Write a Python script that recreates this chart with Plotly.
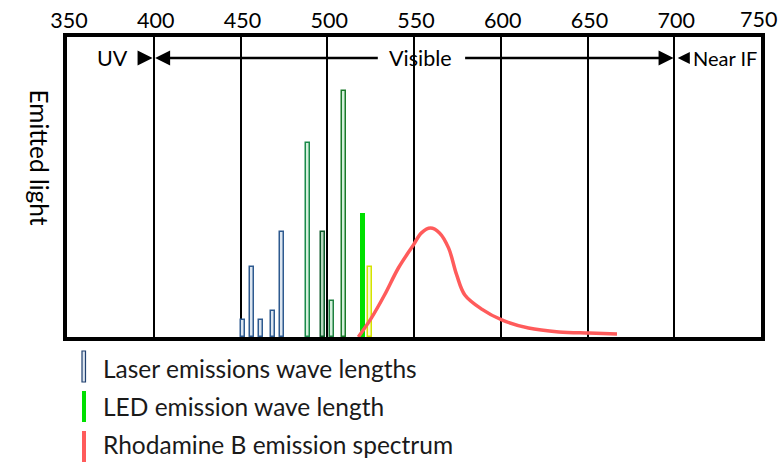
import plotly.graph_objects as go

# ---- data ----
laser_nm = [451.4, 456.6, 461.8, 468.8, 474.0, 489.0, 497.7, 502.9, 509.8]
laser_h = [0.057, 0.233, 0.057, 0.087, 0.35, 0.647, 0.35, 0.12, 0.82]
laser_line = ['#2e5a8f', '#2e5a8f', '#2e5a8f', '#2e5a8f', '#2e5a8f',
              '#1a8a4a', '#0d5a2a', '#1e8040', '#1a7a2a']
laser_fill = ['#dde6f0', '#dde6f0', '#dde6f0', '#dde6f0', '#dde6f0',
              '#d4f0dc', '#b8d8c0', '#d4f0dc', '#d4f0dc']

led_nm = [520.2]
led_h = [0.413]

yellow_nm = [524.9]
yellow_h = [0.233]

rhod_nm = [517.9, 525.4, 533.0, 541.0, 549.7, 554.3, 559.5, 564.7, 569.9,
           574.6, 579.3, 589.0, 600.6, 616.0, 633.5, 651.0, 667.0]
rhod_y = [0.0, 0.063, 0.14, 0.23, 0.307, 0.347, 0.363, 0.347, 0.297,
          0.207, 0.14, 0.093, 0.057, 0.03, 0.017, 0.013, 0.01]

x_ticks = [350, 400, 450, 500, 550, 600, 650, 700, 750]
x_tick_text = ['350', '400', '450', '500', '550', '600', '650', '700', '']
last_tick_val = 750
last_tick_text = '750'

FONT = "Lato"
TICKFONT = dict(family=FONT, size=21.5, color='black')

fig = go.Figure()
fig.add_trace(go.Bar(x=laser_nm, y=laser_h, width=2.3,
                     marker=dict(color=laser_fill,
                                 line=dict(color=laser_line, width=1.5))))
fig.add_trace(go.Bar(x=led_nm, y=led_h, width=2.8,
                     marker=dict(color='#00e000', line=dict(width=0))))
fig.add_trace(go.Bar(x=yellow_nm, y=yellow_h, width=2.3,
                     marker=dict(color='#f8fbd0',
                                 line=dict(color='#d4e400', width=1.5))))
fig.add_trace(go.Scatter(x=rhod_nm, y=rhod_y, mode='lines',
                         line=dict(color='#ff5b5b', width=3.5, shape='spline')))

# window-pixel -> paper helpers (plot area in window: x 67..761, y 37..337)
W, H, L, T = 694.0, 300.0, 67.0, 37.0
def px(x):
    return (x - L) / W
def py(y):
    return (T + H - y) / H

ann = []
# last top tick label, nudged inside the page as in the reference
ann.append(dict(x=last_tick_val, y=py(19.5), xref='x', yref='paper', xshift=-3,
                text=last_tick_text, showarrow=False, yanchor='middle',
                font=TICKFONT))

arrow_y = py(58)
AF = dict(family=FONT, size=21.5, color='black')
# UV arrow
ann.append(dict(x=399.3, y=arrow_y, ax=390.8, ay=arrow_y, xref='x', yref='y',
                axref='x', ayref='y', showarrow=True, arrowhead=2, arrowsize=1.2,
                arrowwidth=2.5, arrowcolor='black', text=''))
ann.append(dict(x=376.3, y=arrow_y, xref='x', yref='y', text='UV', showarrow=False,
                font=AF))
# Visible arrows
ann.append(dict(x=400.8, y=arrow_y, ax=530, ay=arrow_y, xref='x', yref='y',
                axref='x', ayref='y', showarrow=True, arrowhead=2, arrowsize=1.2,
                arrowwidth=2.5, arrowcolor='black', text=''))
ann.append(dict(x=699.6, y=arrow_y, ax=578.6, ay=arrow_y, xref='x', yref='y',
                axref='x', ayref='y', showarrow=True, arrowhead=2, arrowsize=1.2,
                arrowwidth=2.5, arrowcolor='black', text=''))
ann.append(dict(x=554, y=arrow_y, xref='x', yref='y', text='Visible', showarrow=False,
                font=AF))
# Near IF
ann.append(dict(x=702.0, y=arrow_y, ax=705.8, ay=arrow_y, xref='x', yref='y',
                axref='x', ayref='y', showarrow=True, arrowhead=2, arrowsize=1.1,
                arrowwidth=2.2, arrowcolor='black', text=''))
ann.append(dict(x=px(691), y=arrow_y, xref='paper', yref='y', text='Near IF',
                showarrow=False, xanchor='left',
                font=dict(family=FONT, size=20, color='black')))
# y title
ann.append(dict(x=px(23), y=py(157), xref='paper', yref='paper', text='Emitted light',
                showarrow=False, textangle=90,
                font=dict(family=FONT, size=24.5, color='black')))

legend_items = [("Laser emissions wave lengths", 368),
                ("LED emission wave length", 406),
                ("Rhodamine B emission spectrum", 445)]
for txt, yc in legend_items:
    ann.append(dict(x=px(101), y=py(yc), xref='paper', yref='paper', text=txt,
                    showarrow=False, xanchor='left', yanchor='middle',
                    font=dict(family=FONT, size=24.5, color='#1a1a1a')))

shapes = [
    dict(type='rect', xref='paper', yref='paper', x0=px(82), x1=px(85.5),
         y0=py(382), y1=py(351), fillcolor='#dde6f0',
         line=dict(color='#1f3f6f', width=1.2)),
    dict(type='rect', xref='paper', yref='paper', x0=px(82), x1=px(86),
         y0=py(422), y1=py(391), fillcolor='#00e000', line=dict(width=0)),
    dict(type='rect', xref='paper', yref='paper', x0=px(82), x1=px(86),
         y0=py(462), y1=py(431), fillcolor='#ff5b5b', line=dict(width=0)),
]

fig.update_layout(
    width=778, height=466,
    margin=dict(l=67, r=17, t=37, b=129),
    paper_bgcolor='white', plot_bgcolor='white',
    showlegend=False, bargap=0,
    annotations=ann, shapes=shapes,
    xaxis=dict(range=[350, 750], side='top', tickvals=x_ticks,
               ticktext=x_tick_text, showgrid=True,
               gridcolor='black', gridwidth=1.5, zeroline=False, automargin=False,
               showline=True, linecolor='black', linewidth=3.5, mirror=True,
               ticks='', ticklabeloverflow='allow', ticklabelshift=2,
               ticklabelstandoff=-3, tickfont=TICKFONT),
    yaxis=dict(range=[0, 1], showgrid=False, zeroline=False, showticklabels=False,
               automargin=False,
               showline=True, linecolor='black', linewidth=3.5, mirror=True,
               ticks=''),
)

fig.write_html("out.html", config=dict(displayModeBar=False),
               post_script="document.body.style.margin='0';document.body.style.overflow='hidden';")
